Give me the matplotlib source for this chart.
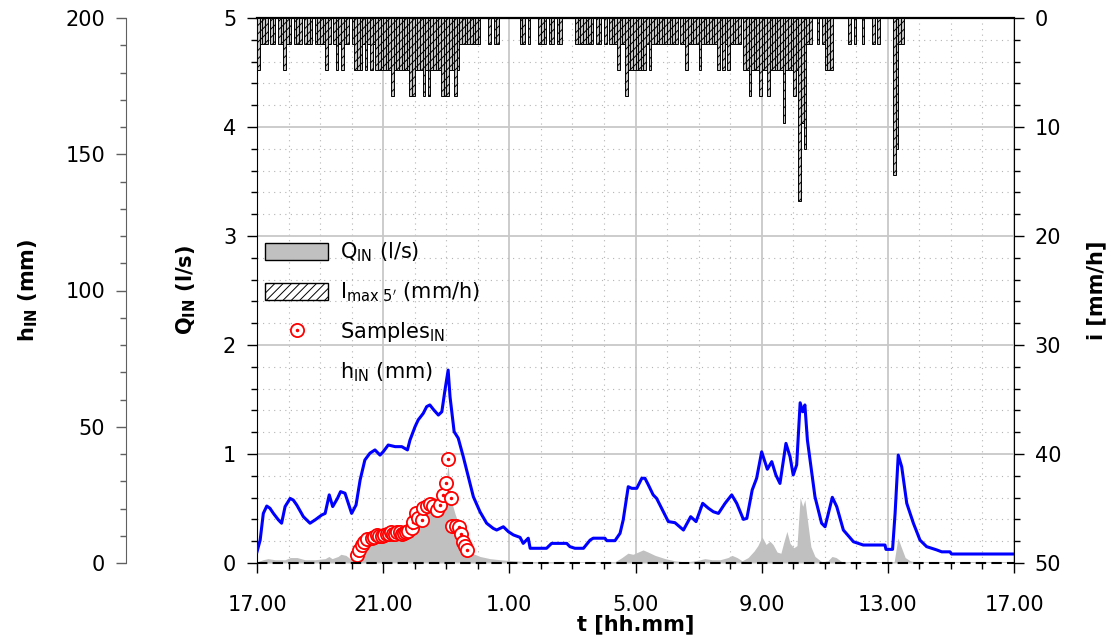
import matplotlib
matplotlib.use('Agg')
import matplotlib.pyplot as plt
import numpy as np
from matplotlib.ticker import MultipleLocator
from matplotlib.patches import Patch
from matplotlib.lines import Line2D

plt.rcParams['font.family'] = 'DejaVu Sans'
plt.rcParams['mathtext.fontset'] = 'dejavusans'
plt.rcParams['hatch.linewidth'] = 0.7

# time axis: hours after 17.00
xtick_pos = [0, 4, 8, 12, 16, 20, 24]
xtick_labels = ['17.00', '21.00', '1.00', '5.00', '9.00', '13.00', '17.00']

# h_IN (mm)
h_t = [0.00, 0.10, 0.20, 0.31, 0.41, 0.52, 0.68, 0.78, 0.89, 1.05, 1.15, 1.26, 1.47, 1.68, 1.84,
       2.05, 2.16, 2.29, 2.40, 2.55, 2.65, 2.79, 2.93, 3.00, 3.14, 3.27, 3.42, 3.58, 3.74, 3.90,
       4.00, 4.16, 4.38, 4.59, 4.77, 4.85, 5.01, 5.11, 5.27, 5.38, 5.48, 5.61, 5.75, 5.86, 5.96,
       6.06, 6.12, 6.25, 6.38, 6.54, 6.70, 6.86, 7.07, 7.28, 7.49, 7.60, 7.81, 7.97, 8.13, 8.34,
       8.44, 8.60, 8.66, 9.18, 9.34, 9.82, 9.92, 10.08, 10.35, 10.56, 10.66, 11.03, 11.09, 11.35,
       11.51, 11.61, 11.77, 11.88, 12.04, 12.20, 12.30, 12.41, 12.56, 12.67, 13.04, 13.25, 13.52,
       13.75, 13.92, 14.13, 14.31, 14.47, 14.63, 14.84, 15.05, 15.21, 15.42, 15.53, 15.70, 15.84,
       16.00, 16.18, 16.32, 16.45, 16.58, 16.77, 16.90, 17.00, 17.11, 17.22, 17.30, 17.37, 17.45,
       17.69, 17.90, 18.01, 18.24, 18.38, 18.59, 18.91, 19.22, 19.91, 19.94, 20.15, 20.23, 20.33,
       20.44, 20.60, 20.81, 21.02, 21.23, 21.55, 21.71, 21.97, 22.02, 24.00]
h_mm = [4.1, 8.4, 18.2, 20.9, 20.1, 18.2, 15.8, 14.6, 20.7, 23.7, 23.1, 21.3, 17.0, 14.6, 15.8,
        17.6, 18.2, 25.0, 20.7, 23.7, 26.2, 25.6, 20.7, 18.2, 21.3, 30.5, 37.8, 40.3, 41.5, 39.6,
        40.8, 43.3, 42.7, 42.7, 41.5, 45.1, 50.0, 52.5, 54.9, 57.4, 58.0, 56.1, 54.3, 55.5, 63.5,
        70.8, 61.0, 48.2, 45.8, 39.0, 31.7, 24.3, 18.8, 14.6, 12.7, 12.1, 13.3, 11.5, 10.3, 9.4,
        7.2, 9.1, 5.4, 5.4, 7.2, 7.2, 6.0, 5.4, 5.4, 8.4, 9.1, 9.1, 8.2, 8.2,
        10.9, 15.8, 28.0, 27.4, 27.4, 31.1, 31.1, 28.6, 25.0, 23.7, 15.2, 14.8, 12.1,
        17.0, 15.2, 21.9, 20.1, 18.8, 18.2, 21.9, 25.0, 21.9, 16.0, 16.4, 26.8, 31.1,
        40.8, 34.4, 37.2, 32.3, 29.2, 43.9, 39.0, 32.3, 36.0, 58.8, 55.5, 58.0, 45.1,
        24.3, 14.6, 13.3, 24.1, 20.7, 12.1, 7.8, 6.6, 6.6, 5.0, 5.0, 18.2, 39.6,
        35.3, 21.9, 14.6, 8.4, 6.0, 4.8, 4.1, 4.1, 3.3, 3.3]

# Q_IN (l/s)
q_t = [0.00, 0.19, 0.35, 0.57, 0.89, 1.05, 1.27, 1.52, 1.84, 2.16, 2.28, 2.38, 2.57, 2.66, 2.82,
       2.95, 3.04, 3.17, 3.33, 3.52, 3.77, 4.06, 4.38, 4.66, 4.85, 4.98, 5.10, 5.26, 5.42, 5.61,
       5.77, 5.90, 5.99, 6.06, 6.12, 6.18, 6.28, 6.40, 6.53, 6.66, 6.82, 7.07, 7.39, 7.70, 8.18,
       8.66, 9.13, 9.61, 10.87, 11.35, 11.57, 11.76, 11.92, 12.08, 12.24, 12.40, 12.62, 12.94,
       13.25, 13.57, 13.89, 14.05, 14.20, 14.43, 14.68, 14.93, 15.06, 15.22, 15.38, 15.57, 15.76,
       15.88, 16.01, 16.14, 16.26, 16.36, 16.49, 16.61, 16.71, 16.80, 16.90, 17.02, 17.12, 17.22,
       17.30, 17.37, 17.47, 17.56, 17.69, 17.91, 18.10, 18.23, 18.36, 18.55, 18.80, 20.07, 20.20,
       20.26, 20.32, 20.42, 20.55, 20.71, 21.02, 24.00]
q_ls = [0.01, 0.03, 0.04, 0.03, 0.03, 0.05, 0.05, 0.03, 0.03, 0.04, 0.06, 0.04, 0.06, 0.08, 0.07,
        0.04, 0.05, 0.08, 0.12, 0.15, 0.18, 0.21, 0.23, 0.25, 0.29, 0.36, 0.42, 0.46, 0.52, 0.54,
        0.55, 0.62, 0.75, 0.90, 0.70, 0.55, 0.45, 0.35, 0.22, 0.14, 0.09, 0.06, 0.04, 0.03, 0.02,
        0.01, 0.01, 0.00, 0.00, 0.01, 0.05, 0.09, 0.08, 0.10, 0.12, 0.10, 0.07, 0.04,
        0.02, 0.01, 0.02, 0.03, 0.04, 0.03, 0.03, 0.05, 0.07, 0.05, 0.02, 0.05, 0.11,
        0.16, 0.24, 0.17, 0.20, 0.17, 0.10, 0.09, 0.20, 0.29, 0.18, 0.14, 0.16, 0.60,
        0.52, 0.58, 0.35, 0.15, 0.06, 0.01, 0.02, 0.06, 0.05, 0.01, 0.00, 0.00, 0.01,
        0.12, 0.23, 0.15, 0.05, 0.02, 0.00, 0.00]

# samples (l/s)
smp_t = [3.18, 3.24, 3.32, 3.40, 3.50, 3.64, 3.72, 3.80, 3.88, 3.95, 4.03, 4.11, 4.18, 4.24,
         4.31, 4.38, 4.45, 4.53, 4.60, 4.66, 4.73, 4.80, 4.90, 4.96, 5.03, 5.11, 5.22, 5.27,
         5.38, 5.48, 5.59, 5.70, 5.80, 5.89, 5.98, 6.07, 6.14, 6.19, 6.30, 6.40, 6.46, 6.54,
         6.59, 6.65]
smp_q = [0.073, 0.119, 0.165, 0.196, 0.217, 0.226, 0.24, 0.257, 0.25, 0.248, 0.26, 0.266, 0.27,
         0.287, 0.27, 0.266, 0.28, 0.287, 0.27, 0.272, 0.28, 0.296, 0.318, 0.379, 0.456, 0.41,
         0.394, 0.502, 0.523, 0.541, 0.523, 0.486, 0.532, 0.624, 0.731, 0.951, 0.594, 0.339,
         0.339, 0.333, 0.266, 0.196, 0.156, 0.119]

# rain, I max 5' (mm/h) per 5-minute interval (index of interval after 17.00)
rain_k = [0, 1, 2, 3, 5, 6, 8, 9, 10, 11, 12, 14, 15, 16, 18, 19, 20, 22, 23, 24, 25, 26, 27,
          29, 30, 31, 32, 33, 34, 36, 37, 38, 39, 40, 41, 42, 43, 44, 45, 46, 47, 48, 49, 50,
          51, 52, 53, 54, 55, 56, 57, 58, 59, 60, 61, 62, 63, 64, 65, 66, 67, 68, 69, 70, 71,
          72, 73, 74, 75, 76, 77, 78, 79, 80, 81, 82, 83, 84, 88, 90, 91, 100, 101, 103, 107,
          108, 109, 111, 112, 114, 115,
          121, 122, 123, 124, 125, 126, 127, 129, 130, 132, 134, 135, 136, 137, 138, 139, 140,
          141, 142, 143, 144, 145, 146, 147, 148, 149, 150, 151, 152, 153, 154, 155, 156, 157,
          158, 159, 161, 162, 163, 164, 165, 166, 167, 168, 169, 170, 171, 172, 173, 174, 175,
          176, 177, 178, 179, 180, 181, 182, 183, 185, 186, 187, 188, 189, 190, 191, 192, 193,
          194, 195, 196, 197, 198, 199, 200, 201, 202, 203, 204, 205, 206, 207, 208, 209, 210,
          213, 215, 216, 217, 218, 225, 227, 230, 234, 236, 242, 243, 244, 245]
rain_i = [4.8, 2.4, 2.4, 2.4, 2.4, 2.4, 2.4, 2.4, 4.8, 2.4, 2.4, 2.4, 2.4, 2.4, 2.4, 2.4, 2.4,
          2.4, 2.4, 2.4, 2.4, 4.8, 2.4,
          2.4, 4.8, 2.4, 4.8, 2.4, 2.4, 2.4, 4.8, 4.8, 4.8, 2.4, 4.8, 2.4, 4.8, 2.4, 4.8, 4.8,
          4.8, 4.8, 4.8, 4.8,
          7.2, 4.8, 4.8, 4.8, 4.8, 4.8, 4.8, 7.2, 7.2, 4.8, 4.8, 4.8, 7.2, 4.8, 7.2, 4.8, 4.8,
          4.8, 4.8, 7.2, 7.2,
          7.2, 4.8, 4.8, 7.2, 4.8, 2.4, 2.4, 2.4, 2.4, 2.4, 2.4, 2.4, 2.4, 2.4, 2.4, 2.4, 2.4,
          2.4, 2.4, 2.4,
          2.4, 2.4, 2.4, 2.4, 2.4, 2.4,
          2.4, 2.4, 2.4, 2.4, 2.4, 2.4, 2.4, 2.4, 2.4, 2.4, 2.4, 2.4, 2.4, 4.8, 2.4, 2.4, 7.2,
          4.8, 4.8, 4.8, 4.8, 4.8, 4.8, 4.8, 2.4, 4.8, 2.4, 2.4, 2.4, 2.4, 2.4, 2.4, 2.4, 2.4,
          2.4, 2.4, 2.4, 2.4, 4.8, 2.4, 2.4, 2.4, 2.4, 4.8, 2.4, 2.4, 2.4, 2.4, 2.4, 2.4, 4.8,
          2.4, 4.8, 2.4, 4.8, 2.4, 2.4, 2.4, 2.4, 4.8, 4.8, 7.2, 4.8, 4.8, 4.8, 7.2, 4.8, 4.8,
          7.2, 4.8, 4.8, 4.8, 4.8, 4.8, 9.6, 4.8, 4.8, 4.8, 7.2, 4.8, 16.8, 9.6, 12.0, 2.4, 2.4,
          2.4, 2.4, 4.8, 4.8, 4.8, 2.4, 2.4, 2.4, 2.4, 2.4, 14.4, 12.0, 2.4, 2.4]

fig = plt.figure(figsize=(11.18, 6.43), dpi=100)
ax = fig.add_axes([257 / 1118, 80 / 643, 757 / 1118, 545 / 643])

# Q axis
ax.fill_between(q_t, 0, q_ls, color='#c0c0c0', lw=0, zorder=2)
for t, q in zip(smp_t, smp_q):
    ax.plot(t, q, 'o', ms=9.5, mfc='white', mec='red', mew=1.3, zorder=4)
    ax.plot(t, q, '.', ms=3, color='red', zorder=4)
ax.axhline(0, color='black', lw=1.5, ls=(0, (5, 2.5)), clip_on=False, zorder=5)

ax.set_xlim(0, 24)
ax.set_ylim(0, 5)
ax.xaxis.set_major_locator(plt.FixedLocator(xtick_pos))
ax.set_xticklabels(xtick_labels)
ax.xaxis.set_minor_locator(MultipleLocator(1))
ax.yaxis.set_major_locator(MultipleLocator(1))
ax.yaxis.set_minor_locator(MultipleLocator(0.2))
ax.set_axisbelow(True)
ax.grid(which='major', color='#c8c8c8', lw=1.3, ls='-')
ax.grid(which='minor', color='#b4b4b4', lw=0.8, ls=(0, (1, 4)))
ax.tick_params(which='major', direction='out', length=7, width=1, labelsize=15, pad=8)
ax.tick_params(which='minor', direction='out', length=4, width=1)
ax.tick_params(axis='x', pad=16)
ax.spines['bottom'].set_visible(False)
ax.spines['right'].set_visible(False)
ax.spines['top'].set_linewidth(1.6)
ax.set_ylabel(r'$\mathbf{Q}_{\mathbf{IN}}$ (l/s)', fontsize=15, fontweight='bold')
ax.yaxis.set_label_coords(-0.078, 0.5)
ax.set_xlabel('t [hh.mm]', fontsize=15, fontweight='bold')
ax.xaxis.set_label_coords(0.5, -0.094)

# h axis
axh = ax.twinx()
axh.plot(h_t, h_mm, color='#0000ff', lw=2.2, zorder=3)
axh.set_ylim(0, 200)
for s in axh.spines.values():
    s.set_visible(False)
axh.spines['left'].set_visible(True)
axh.spines['left'].set_position(('axes', (126 - 257) / 757))
axh.spines['left'].set_color('#606060')
axh.yaxis.set_ticks_position('left')
axh.yaxis.set_label_position('left')
axh.yaxis.set_major_locator(MultipleLocator(50))
axh.yaxis.set_minor_locator(MultipleLocator(10))
axh.tick_params(which='major', direction='out', length=7, width=1, labelsize=15, pad=8, color='#606060')
axh.tick_params(which='minor', direction='out', length=4, width=1, color='#606060')
axh.set_ylabel(r'$\mathbf{h}_{\mathbf{IN}}$ (mm)', fontsize=15, fontweight='bold')
axh.yaxis.set_label_coords(-0.286, 0.5)

# rain axis
axi = ax.twinx()
axi.bar(np.array(rain_k) * 5 / 60, rain_i, width=5 / 60, align='edge', facecolor='#c4c4c4',
        edgecolor='black', lw=0.7, hatch='////')
axi.set_ylim(50, 0)
for s in axi.spines.values():
    s.set_visible(False)
axi.spines['right'].set_visible(True)
axi.yaxis.set_major_locator(MultipleLocator(10))
axi.yaxis.set_minor_locator(MultipleLocator(2))
axi.tick_params(which='major', direction='out', length=7, width=1, labelsize=15, pad=8)
axi.tick_params(which='minor', direction='out', length=4, width=1)
axi.set_ylabel('i [mm/h]', fontsize=15, fontweight='bold')
axi.yaxis.set_label_coords(1.096, 0.5)

handles = [Patch(facecolor='#c0c0c0', edgecolor='black', lw=1),
           Patch(facecolor='white', edgecolor='black', hatch='////', lw=1),
           (Line2D([], [], marker='o', ms=9.5, mfc='white', mec='red', mew=1.3, ls='none'),
            Line2D([], [], marker='.', ms=3, color='red', ls='none')),
           Line2D([], [], color='none')]
labels = [r'Q$_{\mathrm{IN}}$ (l/s)', r"I$_{\mathrm{max\ 5'}}$ (mm/h)",
          r'Samples$_{\mathrm{IN}}$', r'h$_{\mathrm{IN}}$ (mm)']
axi.legend(handles, labels, loc='upper left', bbox_to_anchor=(0.0, 0.607), frameon=False,
           fontsize=15, handlelength=3.0, handleheight=0.9, handletextpad=0.6,
           labelspacing=0.78, borderaxespad=0)

plt.savefig('out.png', dpi=100)
